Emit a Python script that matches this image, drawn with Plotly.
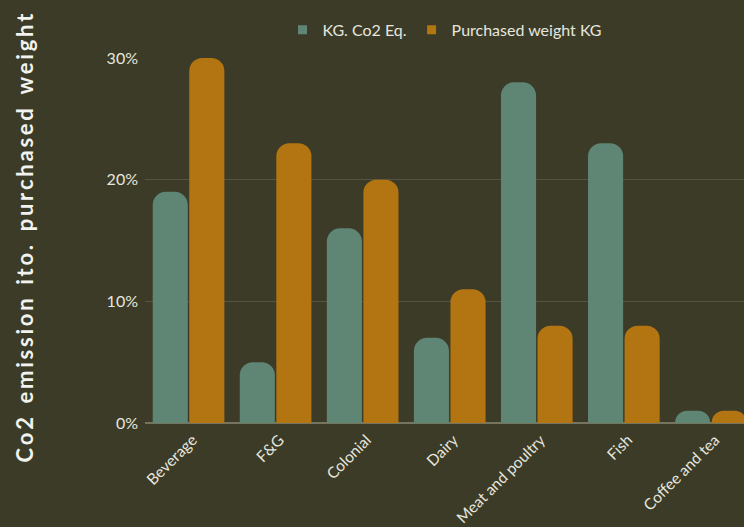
import plotly.graph_objects as go

categories = ["Beverage", "F&G", "Colonial", "Dairy", "Meat and poultry", "Fish", "Coffee and tea"]
co2_eq = [19, 5, 16, 7, 28, 23, 1]
purchased_weight = [30, 23, 20, 11, 8, 8, 1]
series_names = ["KG. Co2 Eq.", "Purchased weight KG"]
y_ticks = [0, 10, 20, 30]
y_tick_labels = ["0%", "10%", "20%", "30%"]
y_title = "Co2 emission ito. purchased weight"

BG = "#3b3b27"
GREEN = "#5f8575"
ORANGE = "#b27511"
TEXT = "#e6e6df"

fig = go.Figure()
for name, values, color in zip(series_names, [co2_eq, purchased_weight], [GREEN, ORANGE]):
    fig.add_trace(go.Bar(name=name, x=categories, y=values, showlegend=False,
                         marker=dict(color=color, line=dict(width=0))))
    # small square legend key
    fig.add_trace(go.Scatter(name=name, x=[None], y=[None], mode="markers",
                             marker=dict(symbol="square", size=9, color=color)))

# letter-spaced axis title: thin spaces between letters, a little wider between words
spaced_title = "\u2009".join(y_title).replace(" ", " \u2009")

fig.update_layout(
    width=744, height=527,
    paper_bgcolor=BG, plot_bgcolor=BG,
    margin=dict(l=145, r=0, t=58, b=104),
    barmode="group", bargap=0.16, bargroupgap=0.04, barcornerradius=13,
    font=dict(family="Lato", color=TEXT, size=15),
    legend=dict(orientation="h", x=0.5, xanchor="center", y=1.077, yanchor="middle",
                font=dict(size=16, color=TEXT), itemwidth=30, bgcolor="rgba(0,0,0,0)"),
    showlegend=True,
)
fig.update_xaxes(range=[-0.5, 6.38], tickangle=-45, tickfont=dict(size=15.5, color=TEXT),
                 ticklabelshift=4, ticklabelstandoff=4,
                 showgrid=False, showline=False, ticks="", zeroline=False)
fig.update_yaxes(range=[0, 30], tickvals=y_ticks, ticktext=y_tick_labels,
                 tickfont=dict(size=16, color=TEXT), ticklabelstandoff=6,
                 showgrid=True, gridcolor="#55553f", gridwidth=1,
                 zeroline=True, zerolinecolor="#74745f", zerolinewidth=2)
fig.add_annotation(text="<b>" + spaced_title + "</b>", textangle=-90,
                   xref="paper", yref="paper", x=-0.227, y=0.507,
                   showarrow=False, font=dict(family="Lato", size=22, color="#f2f2ee"))

fig.write_html("out.html")
